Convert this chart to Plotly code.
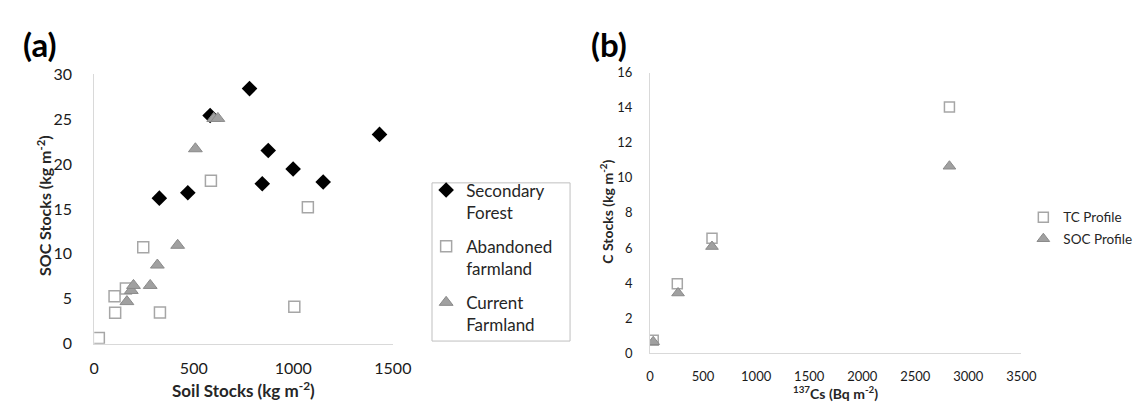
import plotly.graph_objects as go

# Panel (a)
sf_x = [327, 470, 582, 780, 874, 844, 999, 1150, 1433]
sf_y = [16.2, 16.8, 25.4, 28.4, 21.5, 17.8, 19.45, 18.0, 23.3]
af_x = [23, 102, 105, 159, 246, 330, 586, 1073, 1005]
af_y = [0.64, 5.28, 3.44, 6.13, 10.73, 3.47, 18.14, 15.2, 4.11]
cf_x = [164, 186, 197, 281, 317, 419, 508, 600, 621]
cf_y = [4.68, 5.92, 6.48, 6.48, 8.75, 10.95, 21.7, 25.08, 25.08]
a_xticks = [0, 500, 1000, 1500]
a_yticks = [0, 5, 10, 15, 20, 25, 30]

# Panel (b)
cs_x = [30, 257, 584, 2822]
tc_y = [0.73, 3.96, 6.56, 14.04]
soc_x = [30, 264, 584, 2822]
soc_y = [0.65, 3.43, 6.08, 10.66]
b_xticks = [0, 500, 1000, 1500, 2000, 2500, 3000, 3500]
b_yticks = [0, 2, 4, 6, 8, 10, 12, 14, 16]

FONT = "Lato"
TXT = "#262626"
TICK = "#1a1a1a"
AX = "#d9d9d9"
SQ_LINE = "#a6a6a6"
TRI_FILL = "#a0a0a0"
TRI_LINE = "#8a8a8a"

W, H = 1143, 404
def px(v):
    return v / W
def py(v):
    return 1 - v / H

fig = go.Figure()

fig.add_trace(go.Scatter(x=sf_x, y=sf_y, mode="markers", name="Secondary<br>Forest",
                         legendgroup="g1",
                         marker=dict(symbol="diamond", size=12, color="black"),
                         xaxis="x", yaxis="y", legend="legend"))
fig.add_trace(go.Scatter(x=af_x, y=af_y, mode="markers", name="Abandoned<br>farmland",
                         legendgroup="g2",
                         marker=dict(symbol="square", size=11, color="white",
                                     line=dict(color=SQ_LINE, width=1.5)),
                         xaxis="x", yaxis="y", legend="legend"))
fig.add_trace(go.Scatter(x=cf_x, y=cf_y, mode="markers", name="Current<br>Farmland",
                         legendgroup="g3",
                         marker=dict(symbol="triangle-up", size=12, color=TRI_FILL,
                                     line=dict(color=TRI_LINE, width=1)),
                         xaxis="x", yaxis="y", legend="legend"))

fig.add_trace(go.Scatter(x=cs_x, y=tc_y, mode="markers", name="TC Profile",
                         legendgroup="g4",
                         marker=dict(symbol="square", size=10, color="white",
                                     line=dict(color=SQ_LINE, width=1.5)),
                         xaxis="x2", yaxis="y2", legend="legend2"))
fig.add_trace(go.Scatter(x=soc_x, y=soc_y, mode="markers", name="SOC Profile",
                         legendgroup="g5",
                         marker=dict(symbol="triangle-up", size=11, color=TRI_FILL,
                                     line=dict(color=TRI_LINE, width=1)),
                         xaxis="x2", yaxis="y2", legend="legend2"))

axis_common = dict(showgrid=False, zeroline=False, showline=True, linecolor=AX,
                   linewidth=1, ticks="", color=TICK)

fig.update_layout(
    width=W, height=H,
    margin=dict(l=0, r=0, t=0, b=0),
    paper_bgcolor="white", plot_bgcolor="white",
    font=dict(family=FONT, color=TXT),
    xaxis=dict(domain=[px(83), px(388)], range=[0, 1500], tickvals=a_xticks,
               tickfont=dict(size=16, color=TICK), anchor="y", ticklabelstandoff=10,
               **axis_common),
    yaxis=dict(domain=[py(341.7), py(59)], range=[0, 30], tickvals=a_yticks,
               tickfont=dict(size=16, color=TICK), anchor="x", ticklabelstandoff=18,
               **axis_common),
    xaxis2=dict(domain=[px(650.7), px(1030)], range=[0, 3500], tickvals=b_xticks,
                tickfont=dict(size=13, color=TICK), anchor="y2", ticklabelstandoff=11,
                **axis_common),
    yaxis2=dict(domain=[py(351.7), py(57.3)], range=[0, 16], tickvals=b_yticks,
                tickfont=dict(size=13, color=TICK), anchor="x2", ticklabelstandoff=14,
                **axis_common),
    legend=dict(x=px(422), y=py(162), xanchor="left", yanchor="top",
                borderwidth=0, bgcolor="rgba(0,0,0,0)",
                font=dict(size=17, color=TXT), tracegroupgap=9,
                itemwidth=30, valign="top", traceorder="grouped"),
    legend2=dict(x=px(1032), y=py(193), xanchor="left", yanchor="top",
                 font=dict(size=13.5, color=TXT), bgcolor="rgba(0,0,0,0)",
                 itemwidth=30, tracegroupgap=1, traceorder="grouped"),
    showlegend=True,
)

# legend frame of panel (a)
fig.add_shape(type="rect", xref="paper", yref="paper",
              x0=px(428), x1=px(569), y0=py(339), y1=py(173),
              line=dict(color="#bfbfbf", width=1), fillcolor="rgba(0,0,0,0)", layer="below")

fig.add_annotation(text="<b>(a)</b>", x=px(8), y=py(27), xref="paper", yref="paper",
                   xanchor="left", yanchor="middle", showarrow=False,
                   font=dict(size=33, family=FONT, color="black"))
fig.add_annotation(text="<b>(b)</b>", x=px(588), y=py(27), xref="paper", yref="paper",
                   xanchor="left", yanchor="middle", showarrow=False,
                   font=dict(size=33, family=FONT, color="black"))
fig.add_annotation(text="<b>Soil Stocks (kg m<sup>-2</sup>)</b>", x=px(235), y=py(390),
                   xref="paper", yref="paper", xanchor="center", yanchor="middle",
                   showarrow=False, font=dict(size=17, family=FONT, color=TXT))
fig.add_annotation(text="<b><sup>137</sup>Cs (Bq m<sup>-2</sup>)</b>", x=px(840), y=py(393),
                   xref="paper", yref="paper", xanchor="center", yanchor="middle",
                   showarrow=False, font=dict(size=14, family=FONT, color=TXT))
fig.add_annotation(text="<b>SOC Stocks (kg m<sup>-2</sup>)</b>", x=px(32), y=py(197),
                   xref="paper", yref="paper", textangle=-90, showarrow=False,
                   xanchor="center", yanchor="middle", font=dict(size=16, family=FONT, color=TXT))
fig.add_annotation(text="<b>C Stocks (kg m<sup>-2</sup>)</b>", x=px(606), y=py(203),
                   xref="paper", yref="paper", textangle=-90, showarrow=False,
                   xanchor="center", yanchor="middle", font=dict(size=14, family=FONT, color=TXT))

fig.write_html("out.html")
